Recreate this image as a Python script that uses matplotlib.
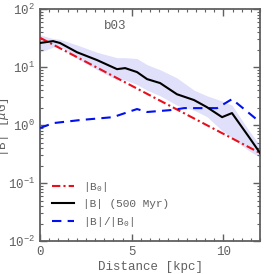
import numpy as np
import matplotlib
matplotlib.use("Agg")
import matplotlib.pyplot as plt
from matplotlib.ticker import MultipleLocator, LogLocator, NullFormatter

plt.rcParams['font.family'] = ['Liberation Mono', 'DejaVu Sans Mono']
plt.rcParams['mathtext.fontset'] = 'custom'
plt.rcParams['mathtext.rm'] = 'Liberation Mono'
plt.rcParams['mathtext.it'] = 'Liberation Mono:italic'
plt.rcParams['mathtext.bf'] = 'Liberation Mono:bold'

# Data
dist = [0, 0.71, 1.09, 2.02, 3.11, 4.2, 4.64, 5.29, 5.84, 6.55, 7.47, 8.4, 9.1, 9.93, 10.47, 11.4, 12]
b_500 = [26, 28, 26, 18, 13.2, 9.2, 9.6, 8.2, 6.2, 5.3, 3.4, 2.7, 2.04, 1.37, 1.61, 0.62, 0.33]
b_upper = [36, 31, 30, 24, 18, 14.5, 14.5, 14, 11, 9, 6.5, 4.0, 3.2, 2.6, 2.2, 0.8, 0.45]
b_lower = [18, 22, 23, 14, 9, 6, 6, 5, 4, 3.2, 2.2, 1.8, 1.4, 0.8, 0.6, 0.36, 0.28]

b0_dist = [0, 12]
b0_vals = [32, 0.33]

ratio_dist = [0, 0.71, 2.18, 3.98, 5.29, 5.84, 7.1, 7.86, 9.66, 10.47, 11.73, 12]
ratio_vals = [0.89, 1.08, 1.22, 1.37, 1.89, 1.68, 1.81, 1.96, 1.96, 2.8, 1.32, 1.13]

gray = '#606060'

fig = plt.figure(figsize=(2.74, 2.74), dpi=100)
ax = fig.add_axes([0.146, 0.12, 0.803, 0.847])

ax.fill_between(dist, b_lower, b_upper, color='#e0e0fb', lw=0, zorder=1)
ax.plot(b0_dist, b0_vals, color='#e8101c', ls=(0, (4, 1.5, 1, 1.5)), lw=1.5, label=r'|B$_0$|', zorder=3)
ax.plot(dist, b_500, color='black', lw=1.5, label='|B| (500 Myr)', zorder=4)
ax.plot(ratio_dist, ratio_vals, color='#0010ee', ls=(0, (4.5, 3)), lw=1.5, label=r'|B|/|B$_0$|', zorder=3)

ax.set_yscale('log')
ax.set_xlim(0, 12)
ax.set_ylim(1e-2, 1e2)
ax.xaxis.set_major_locator(MultipleLocator(5))
ax.xaxis.set_minor_locator(MultipleLocator(0.5))
ax.yaxis.set_major_locator(LogLocator(base=10, numticks=10))
ax.yaxis.set_minor_locator(LogLocator(base=10, subs=np.arange(2, 10), numticks=10))
ax.yaxis.set_minor_formatter(NullFormatter())

ax.tick_params(which='both', direction='in', top=True, right=True, colors=gray, labelcolor=gray, labelsize=9)
ax.tick_params(which='major', length=5, width=1)
ax.tick_params(which='minor', length=2.5, width=0.8)
for s in ax.spines.values():
    s.set_color(gray)
    s.set_linewidth(1.3)

ax.set_xlabel('Distance [kpc]', fontsize=9, color=gray, labelpad=2)
ax.set_ylabel(r'|B| [$\mu$G]', fontsize=9, color=gray)
ax.yaxis.set_label_coords(-0.13, 0.49)

ax.text(4.1, 52, 'b03', fontsize=9, color=gray, ha='center', va='center')

leg = ax.legend(loc='lower left', frameon=False, fontsize=8, handlelength=2.0,
                borderaxespad=0.3, labelspacing=0.5, handletextpad=0.8,
                bbox_to_anchor=(0.02, 0.02))
for t in leg.get_texts():
    t.set_color(gray)

fig.savefig('out.png', dpi=100)
